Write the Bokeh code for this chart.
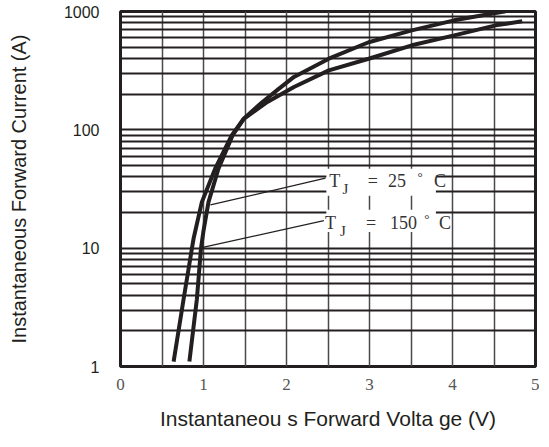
from bokeh.plotting import figure
from bokeh.models import Range1d, FixedTicker, Label
from bokeh.embed import file_html
from bokeh.resources import INLINE

# Forward voltage (V) vs instantaneous forward current (A)
# curve that is left at low current (TJ = 150 C)
v_150 = [0.64, 0.76, 0.86, 0.88, 0.98, 1.14, 1.34, 1.485, 1.77, 2.09, 2.51, 2.99, 3.51, 4.02, 4.52, 4.84]
i_150 = [1.1, 3.7, 9.9, 12.0, 24.5, 46.9, 89.7, 124.0, 172.0, 230.0, 318.0, 399.0, 518.0, 629.0, 764.0, 826.0]
# curve that is right at low current (TJ = 25 C)
v_25 = [0.83, 0.92, 0.97, 1.00, 1.06, 1.18, 1.35, 1.485, 1.71, 1.91, 2.09, 2.51, 2.99, 3.51, 4.02, 4.64]
i_25 = [1.1, 3.7, 10.0, 14.0, 24.5, 46.9, 89.7, 124.0, 172.0, 223.0, 280.0, 399.0, 550.0, 693.0, 842.0, 1005.0]

x_ticks = [0, 1, 2, 3, 4, 5]
x_grid = [0, 0.5, 1, 1.5, 2, 2.5, 3, 3.5, 4, 4.5, 5]
y_ticks = [1, 10, 100, 1000]
y_minor = [m * 10 ** k for k in range(3) for m in range(2, 10)]

p = figure(width=539, height=441, output_backend="svg", toolbar_location=None,
           x_range=Range1d(0, 5), y_range=Range1d(1, 1000), y_axis_type="log",
           min_border_left=120, min_border_right=4, min_border_top=11, min_border_bottom=75)
p.background_fill_color = "white"
p.border_fill_color = "white"
p.outline_line_color = "#231f20"
p.outline_line_width = 3

# grids
p.xgrid.ticker = FixedTicker(ticks=x_grid)
p.xgrid.grid_line_color = "#4a4a4a"
p.xgrid.grid_line_width = 1.5
p.xgrid.grid_line_alpha = 1
p.ygrid.ticker = FixedTicker(ticks=y_ticks, minor_ticks=y_minor)
p.ygrid.grid_line_color = "#231f20"
p.ygrid.grid_line_width = 2
p.ygrid.minor_grid_line_color = "#231f20"
p.ygrid.minor_grid_line_width = 2

# axes
p.xaxis.ticker = FixedTicker(ticks=x_ticks)
p.yaxis.ticker = FixedTicker(ticks=y_ticks)
for ax in (p.xaxis[0], p.yaxis[0]):
    ax.axis_line_color = None
    ax.major_tick_line_color = None
    ax.minor_tick_line_color = None
    ax.axis_label_text_font = "Liberation Sans"
    ax.axis_label_text_font_style = "normal"
    ax.axis_label_text_font_size = "20px"
    ax.axis_label_text_color = "#231f20"
p.xaxis.major_label_text_font = "Liberation Serif"
p.xaxis.major_label_text_font_size = "17px"
p.xaxis.major_label_text_color = "#555555"
p.xaxis.major_label_standoff = 6
p.xaxis.axis_label = "Instantaneou s Forward Volta ge (V)"
p.xaxis.axis_label_text_font_size = "21px"
p.xaxis.axis_label_standoff = 14
p.yaxis.major_label_text_font = "Liberation Sans"
p.yaxis.major_label_text_font_size = "16px"
p.yaxis.major_label_text_color = "#231f20"
p.yaxis.major_label_standoff = 15
p.yaxis.major_label_overrides = {1: "1", 10: "10", 100: "100", 1000: "1000"}
p.yaxis.axis_label = "Instantaneous Forward Current (A)"
p.yaxis.axis_label_standoff = 31

# curves
p.line(v_150, i_150, line_color="#231f20", line_width=4)
p.line(v_25, i_25, line_color="#231f20", line_width=4)

# label boxes (white) over the grid
p.quad(left=[2.48, 2.48], right=[3.80, 3.80], top=[46.9, 21.1], bottom=[27.7, 13.7],
       fill_color="white", line_color=None)

# leader lines
p.segment(x0=[2.47, 2.45], y0=[39.1, 17.1], x1=[1.084, 0.964], y1=[23.2, 10.06],
          line_color="#231f20", line_width=1.2)

serif = "Liberation Serif"
def lab(x, y, t, size="18px"):
    p.add_layout(Label(x=x, y=y, text=t, text_font=serif, text_font_size=size,
                       text_color="#333333", text_align="center", text_baseline="middle"))

# row 1: T_J = 25 °C
lab(2.58, 37.0, "T")
lab(2.71, 31.5, "J", "15px")
lab(3.04, 37.0, "=")
lab(3.33, 37.0, "25")
lab(3.61, 40.0, "°", "13px")
lab(3.85, 37.0, "C")
# row 2: T_J = 150 °C
lab(2.53, 16.4, "T")
lab(2.68, 14.0, "J", "15px")
lab(3.02, 16.4, "=")
lab(3.41, 16.4, "150")
lab(3.69, 17.8, "°", "13px")
lab(3.91, 16.4, "C")

open("out.html", "w").write(file_html(p, INLINE))
